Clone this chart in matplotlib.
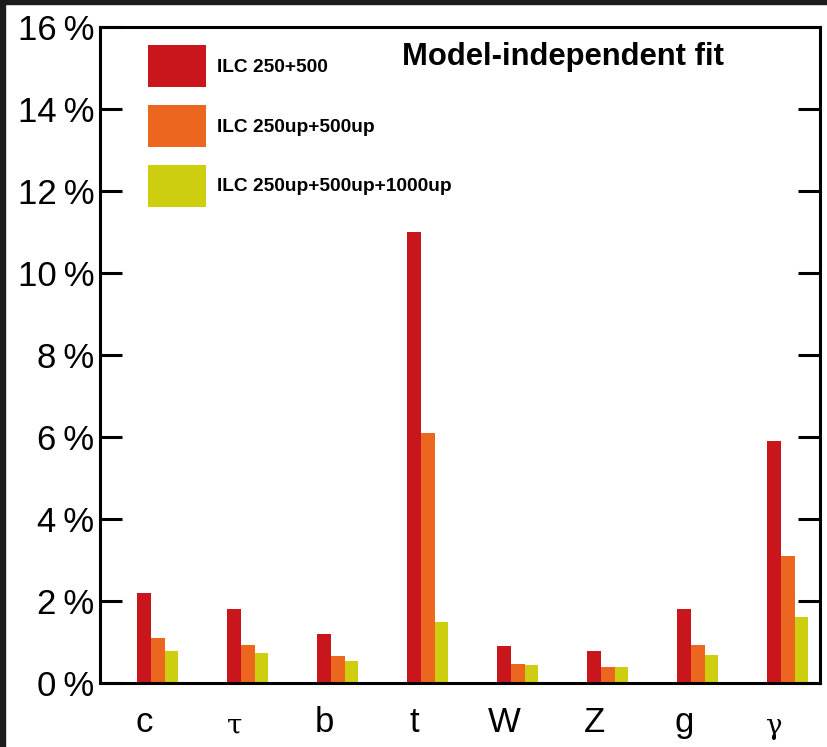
import matplotlib
matplotlib.use('Agg')
import matplotlib.pyplot as plt
import numpy as np

# couplings and relative precision (%)
couplings = ['c', 'τ', 'b', 't', 'W', 'Z', 'g', 'γ']
ilc_250_500 = [2.2, 1.8, 1.2, 11.0, 0.9, 0.78, 1.8, 5.9]
ilc_up = [1.1, 0.93, 0.66, 6.1, 0.46, 0.39, 0.93, 3.1]
ilc_up_1000 = [0.79, 0.72, 0.54, 1.5, 0.44, 0.39, 0.68, 1.62]
series_names = ['ILC 250+500', 'ILC 250up+500up', 'ILC 250up+500up+1000up']
colors = ['#C9161D', '#EC661F', '#CDCE10']
yticks = [0, 2, 4, 6, 8, 10, 12, 14, 16]

plt.rcParams['font.family'] = ['Liberation Sans', 'DejaVu Sans']

fig = plt.figure(figsize=(8.27, 7.47), dpi=100)
fig.patch.set_facecolor('white')
# dunkler Rand vom Screenshot
fig.patches.append(plt.Rectangle((0, 1 - 4 / 747), 1, 4 / 747, transform=fig.transFigure,
                                 color='#1c1c1c', zorder=-1))
fig.patches.append(plt.Rectangle((0, 0), 5 / 827, 1, transform=fig.transFigure,
                                 color='#1c1c1c', zorder=-1))

ax = fig.add_axes([100 / 827, 1 - 683 / 747, 720 / 827, 656 / 747])

x = np.arange(len(couplings))
w = 0.152
for i, (vals, name, col) in enumerate(zip([ilc_250_500, ilc_up, ilc_up_1000], series_names, colors)):
    ax.bar(x + (i - 1) * w, vals, w, color=col, label=name, zorder=2)

ax.set_xlim(-0.644, 7.356)
ax.set_ylim(0, 16)

ax.set_yticks(yticks)
ax.set_yticklabels([f'{t}\u2009%' for t in yticks], fontsize=25)
ax.tick_params(axis='y', direction='in', length=16, width=2.2, right=True, pad=4)
ax.set_xticks(x - w)
ax.set_xticklabels([])
ax.tick_params(axis='x', length=0)
for xi, lab in zip(x - w, couplings):
    if lab in ('τ', 'γ'):
        ax.text(xi, -0.72, lab, ha='center', va='top', fontsize=20,
                family=['DejaVu Serif'], clip_on=False)
    else:
        ax.text(xi, -0.55, lab, ha='center', va='top', fontsize=25, clip_on=False)

for spine in ax.spines.values():
    spine.set_linewidth(2.2)

ax.text(0.42, 0.955, 'Model-independent fit', transform=ax.transAxes,
        fontsize=22.3, fontweight='bold', ha='left', va='center')

leg = ax.legend(loc='upper left', bbox_to_anchor=(148 / 827, 1 - 45 / 747),
                bbox_transform=fig.transFigure, frameon=False, fontsize=13.75,
                handlelength=3.04, handleheight=3.0, labelspacing=0.945,
                handletextpad=0.58, borderpad=0, borderaxespad=0)
for t in leg.get_texts():
    t.set_fontweight('bold')

fig.savefig('out.png', dpi=100)
